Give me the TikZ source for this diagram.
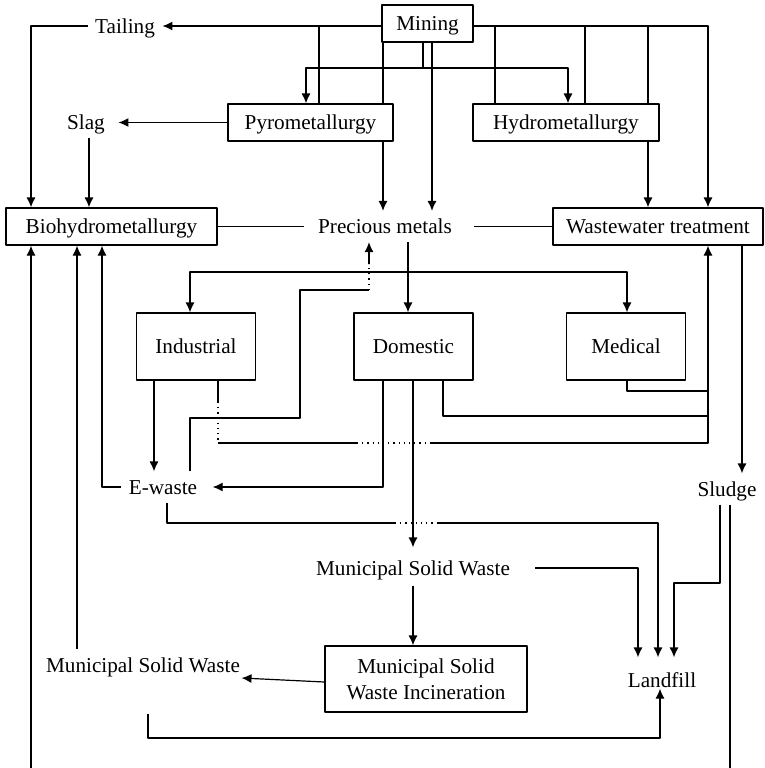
\documentclass[tikz,border=0pt]{standalone}
\usepackage{fontspec}
\setmainfont{Liberation Serif}
\usetikzlibrary{arrows.meta}
\begin{document}
\begin{tikzpicture}[x=0.5pt,y=-0.5pt,>={Latex[length=5pt,width=4.5pt]},line join=bevel,line width=0.6pt,
  every node/.style={font=\fontsize{10.6pt}{13pt}\selectfont},
  proc/.style={draw,inner sep=0pt,minimum height=18.5pt,text height=7pt,text depth=0pt},
  src/.style={draw,inner sep=0pt,minimum width=59.5pt,minimum height=33.5pt,text height=7pt,text depth=0pt},
  lbl/.style={inner xsep=3.5pt,inner ysep=4pt,text height=7pt,text depth=0pt},
  ]
\useasboundingbox (0,0) rectangle (765,768);
%%
\node (node_mining) at (427.5,23.5) [proc,minimum width=45.5pt] {Mining};
  \node (node_pyro) at (310.5,122.5) [proc,minimum width=82.5pt] {Pyrometallurgy};
  \node (node_hydro) at (566,122.5) [proc,minimum width=93pt] {Hydrometallurgy};
  \node (node_bio) at (111.5,226.5) [proc,minimum width=105.5pt] {Biohydrometallurgy};
  \node (node_wwt) at (658,226.5) [proc,minimum width=105pt] {Wastewater treatment};
  \node (node_ind) at (196,346.5) [src] {Industrial};
  \node (node_dom) at (413.5,346.5) [src] {Domestic};
  \node (node_med) at (626,346.5) [src] {Medical};
  \node (node_mswi) at (426,679) [draw,minimum width=101pt,minimum height=33pt,align=center] {Municipal Solid\\Waste Incineration};
  \node (node_tail) at (125,26) [lbl] {Tailing};
  \node (node_slag) at (86,122.5) [lbl] {Slag};
  \node (node_prec) at (385,226.5) [lbl] {Precious metals};
  \node (node_ewaste) at (163,487) [lbl] {E-waste};
  \node (node_sludge) at (727,489) [lbl] {Sludge};
  \node (node_msw) at (413,568) [lbl] {Municipal Solid Waste};
  \node (node_mswb) at (143,665) [lbl] {Municipal Solid Waste};
  \node (node_fill) at (662,680) [lbl] {Landfill};
  \coordinate (fill_top) at ([yshift=3.5pt]node_fill.north);
  \coordinate (fill_bottom) at ([yshift=3.5pt]node_fill.south);
  \coordinate (mswb_bottom) at ([yshift=-16.5pt]node_mswb.south);
%
% mining and the two smelting routes
  \draw [->] (node_mining.west |- node_tail.east) -- (node_tail.east);
  \draw [->] (node_mining.east |- node_tail.east) -| (node_wwt.north -| 708,0);
  \draw (node_pyro.north -| 319,0) -- (node_tail.east -| 319,0);
  \draw [->] (node_mining.south -| 423,0) -- (423,68) -| (node_pyro.north -| 306,0);
  \draw [->] (node_mining.south -| 423,0) -- (423,68) -| (node_hydro.north -| 568,0);
  \draw [->] (node_mining.south -| 432,0) -- (node_prec.north -| 432,0);
  \draw (node_mining.south -| 383,0) -- (node_pyro.north -| 383,0);
  \draw [->] (node_pyro.south -| 383,0) -- (node_prec.north -| 383,0);
  \draw (node_hydro.north -| 495,0) -- (495,26);
  \draw (node_hydro.north -| 585,0) -- (585,26);
  \draw (node_hydro.north -| 648,0) -- (648,26);
  \draw [->] (node_hydro.south -| 648,0) -- (node_wwt.north -| 648,0);
  \draw [->] (node_tail.west) -| (node_bio.north -| 31,0);
  \draw [->] (node_pyro.west) -- ([xshift=3pt]node_slag.east);
  \draw [->] (node_slag.south -| 89,0) -- (node_bio.north -| 89,0);
  \draw (node_bio.east) -- ([xshift=-3.5pt]node_prec.west);
  \draw ([xshift=7.5pt]node_prec.east) -- (node_wwt.west);
%
% sources
  \draw [->] (node_prec.south -| 408,0) -- (node_dom.north -| 408,0);
  \draw [<->] (node_ind.north -| 190,0) -- (190,272) -- (627,272) -- (node_med.north -| 627,0);
  \draw (node_ewaste.north -| 190,0) |- (300,418) |- (369,290);
  \draw [dotted] (369,290) -- (369,264);
  \draw [->] (369,264) -- (node_prec.south -| 369,0);
  \draw [->] (node_ind.south -| 154,0) -- (node_ewaste.north -| 154,0);
  \draw (node_ind.south -| 218,0) -- (218,402);
  \draw [dotted] (218,402) -- (218,443);
  \draw (218,443) -- (357,443);
  \draw [dotted] (357,443) -- (430,443);
  \draw [->] (430,443) -| (node_wwt.south -| 708,0);
  \draw [->] (node_dom.south -| 383,0) |- ([xshift=4pt]node_ewaste.east);
  \draw [->] (node_dom.south -| 413,0) -- ([yshift=2.5pt]node_msw.north);
  \draw (node_dom.south -| 443,0) |- (708,416);
  \draw (node_med.south -| 627,0) |- (708,391);
%
% disposal
  \draw [->] (node_wwt.south -| 742,0) -- (node_sludge.north -| 742,0);
  \draw [->] (node_sludge.south -| 720,0) |- (674,583) -- (fill_top -| 674,0);
  \draw (node_sludge.south -| 730,0) -- (730,768);
  \draw [->] (node_ewaste.west) -| (node_bio.south -| 102,0);
  \draw (node_ewaste.south -| 167,0) |- (395,523);
  \draw [dotted] (395,523) -- (438,523);
  \draw [->] (438,523) -| (fill_top -| 658,0);
  \draw [->] ([xshift=9pt]node_msw.east) -| (fill_top -| 638,0);
  \draw [->] ([yshift=-1pt]node_msw.south) -- (node_mswi.north -| 413,0);
  \draw [->] ([yshift=-1.5pt]node_mswi.west) -- ([shift={(-3pt,-6.5pt)}]node_mswb.east);
  \draw [->] (node_mswb.north -| 77,0) -- (node_bio.south -| 77,0);
  \draw [->] (mswb_bottom -| 148,0) -- (148,738) -| (fill_bottom -| 660,0);
  \draw [->] (31,768) -- (node_bio.south -| 31,0);
%
\end{tikzpicture}
\end{document}
